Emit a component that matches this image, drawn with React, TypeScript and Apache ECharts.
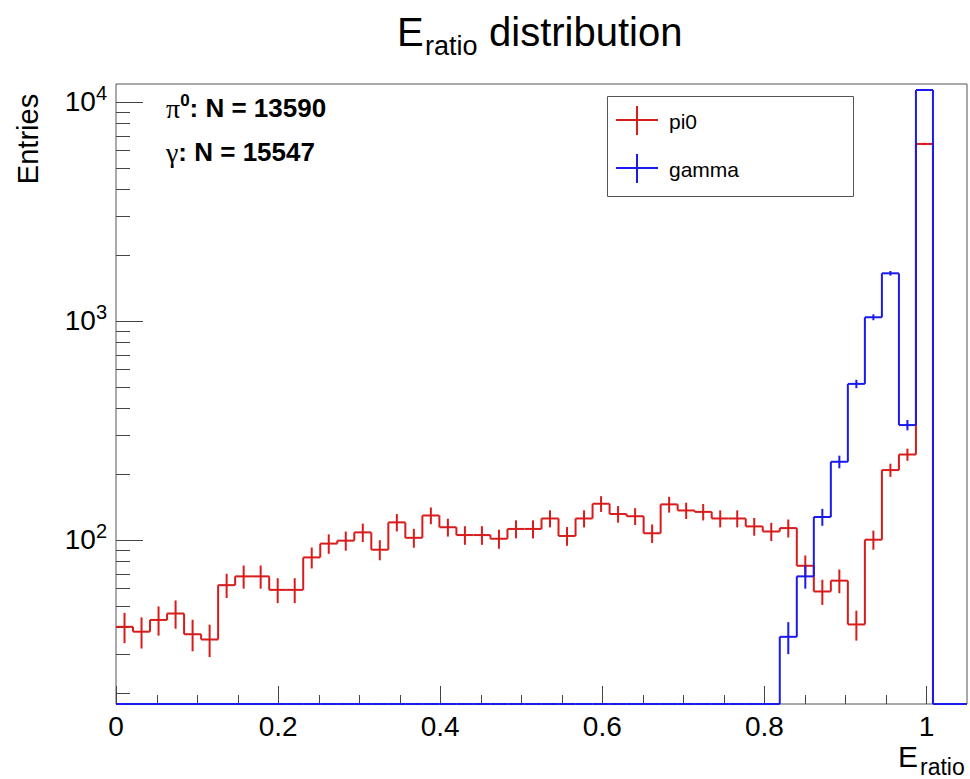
import React, { useEffect, useRef } from "react";
import * as echarts from "echarts";

// ---- binning / axis ranges ----
const X_MIN = 0;
const X_MAX = 1.05;
const N_BINS = 50;
const BIN_W = (X_MAX - X_MIN) / N_BINS;
const Y_MIN = 17.76;
const Y_MAX = 12071;

// ---- data (entries per bin, bins of width 0.021 from 0 to 1.05) ----
const pi0Counts = [
  40, 38, 43, 46, 37, 35, 62, 68, 68, 59,
  59, 83, 96, 99, 108, 90, 120, 102, 129, 114,
  105, 105, 101, 112, 112, 125, 104, 125, 146, 131,
  128, 107, 145, 136, 134, 125, 125, 115, 109, 113,
  76, 58, 65, 41, 100, 208, 245, 6424, 0, 0,
];
const gammaCounts = [
  0, 0, 0, 0, 0, 0, 0, 0, 0, 0,
  0, 0, 0, 0, 0, 0, 0, 0, 0, 0,
  0, 0, 0, 0, 0, 0, 0, 0, 0, 0,
  0, 0, 0, 0, 0, 0, 0, 0, 0, 36,
  68, 127, 227, 515, 1038, 1648, 334, 11333, 0, 0,
];
const seriesNames = ["pi0", "gamma"];
const seriesColors = ["#d81b1b", "#1a1aec"];
const statsSymbols = ["π", "γ"];
const statsSups = ["0", ""];
const statsTotals = [13590, 15547];

// tick values
const xMajorTicks = [0, 0.2, 0.4, 0.6, 0.8, 1.0];
const xMinorStep = 0.05;
const yMajorTicks = [100, 1000, 10000];

const FONT = "'Liberation Sans', Arial, Helvetica, sans-serif";

function buildXTicks() {
  const out: number[][] = [];
  for (let k = 0; k * xMinorStep <= 1.0 + 1e-9; k++) {
    const v = +(k * xMinorStep).toFixed(4);
    const major = xMajorTicks.some((m) => Math.abs(m - v) < 1e-9) ? 1 : 0;
    out.push([v, Y_MIN, major]);
  }
  return out;
}
function buildYTicks() {
  const out: number[][] = [];
  for (let d = 10; d <= 10000; d *= 10) {
    for (let m = 1; m <= 9; m++) {
      const v = d * m;
      if (v < Y_MIN || v > Y_MAX) continue;
      const major = yMajorTicks.indexOf(v) >= 0 ? 1 : 0;
      out.push([X_MIN, v, major]);
    }
  }
  return out;
}

function histSeries(name: string, counts: number[], color: string) {
  return {
    type: "custom",
    name,
    clip: false,
    silent: true,
    data: counts.map((c, i) => [X_MIN + (i + 0.5) * BIN_W, Math.max(c, Y_MIN), i]),
    encode: { x: 0, y: 1 },
    renderItem: (_p: any, api: any) => {
      const i = api.value(2);
      const v = counts[i];
      const lo = X_MIN + i * BIN_W;
      const hi = lo + BIN_W;
      const yv = Math.max(v, Y_MIN);
      const pL = api.coord([lo, yv]);
      const pR = api.coord([hi, yv]);
      const st = { stroke: color, lineWidth: 2, fill: null };
      const children: any[] = [
        { type: "line", shape: { x1: pL[0], y1: pL[1], x2: pR[0], y2: pR[1] }, style: st },
      ];
      if (i > 0) {
        const prev = Math.max(counts[i - 1], Y_MIN);
        const pp = api.coord([lo, prev]);
        children.push({
          type: "line",
          shape: { x1: pL[0], y1: pp[1], x2: pL[0], y2: pL[1] },
          style: st,
        });
      }
      if (v > 0) {
        const e = Math.sqrt(v);
        const mid = (lo + hi) / 2;
        const t = api.coord([mid, v + e]);
        const b = api.coord([mid, Math.max(v - e, Y_MIN)]);
        children.push({
          type: "line",
          shape: { x1: t[0], y1: t[1], x2: b[0], y2: b[1] },
          style: st,
        });
      }
      return { type: "group", children };
    },
  };
}

export default function App() {
  const ref = useRef<HTMLDivElement>(null);
  useEffect(() => {
    if (!ref.current) return;
    const chart = echarts.init(ref.current, null, { renderer: "svg" });
    const xTickData = buildXTicks();
    const yTickData = buildYTicks();

    const legendGraphics: any[] = [
      {
        type: "rect",
        shape: { x: 607.5, y: 96.5, width: 246, height: 100 },
        style: { fill: "#fff", stroke: "#555", lineWidth: 1 },
        z: 10,
      },
    ];
    const legendRows = [120, 168];
    seriesNames.forEach((nm, k) => {
      const cy = legendRows[k];
      legendGraphics.push(
        { type: "line", shape: { x1: 616, y1: cy, x2: 658, y2: cy }, style: { stroke: seriesColors[k], lineWidth: 2 }, z: 11 },
        { type: "line", shape: { x1: 637, y1: cy - 14, x2: 637, y2: cy + 15 }, style: { stroke: seriesColors[k], lineWidth: 2 }, z: 11 },
        { type: "text", x: 669, y: cy + 1, style: { text: nm, fontSize: 21, fontFamily: FONT, fill: "#000", verticalAlign: "middle", align: "left" }, z: 11 }
      );
    });

    const statsGraphics = statsSymbols.map((sym, k) => ({
      type: "text",
      x: 166,
      y: 108 + k * 44,
      style: {
        text: `{g|${sym}}` + (statsSups[k] ? `{s|${statsSups[k]}}` : "") + `{b|: N = ${statsTotals[k]}}`,
        verticalAlign: "middle",
        align: "left",
        rich: {
          g: { fontFamily: "'Liberation Serif', 'DejaVu Serif', serif", fontSize: 28, fill: "#000" },
          s: { fontFamily: FONT, fontSize: 17, fontWeight: "bold", padding: [0, 0, 15, 0], fill: "#000" },
          b: { fontFamily: FONT, fontSize: 26, fontWeight: "bold", fill: "#000" },
        },
      },
    }));

    const option: any = {
      animation: false,
      backgroundColor: "#fff",
      grid: {
        left: 116,
        right: 3,
        top: 84,
        bottom: 75,
        show: true,
        borderColor: "#555",
        borderWidth: 1,
        containLabel: false,
        outerBoundsMode: "none",
      },
      xAxis: {
        type: "value",
        min: X_MIN,
        max: X_MAX,
        interval: 0.2,
        axisLine: { show: false },
        axisTick: { show: false },
        splitLine: { show: false },
        axisLabel: {
          fontSize: 28,
          fontFamily: FONT,
          color: "#000",
          margin: 8,
          showMaxLabel: false,
          formatter: (v: number) => (v > 1.0001 ? "" : String(+v.toFixed(2))),
        },
      },
      yAxis: {
        type: "log",
        logBase: 10,
        min: Y_MIN,
        max: Y_MAX,
        axisLine: { show: false },
        axisTick: { show: false },
        splitLine: { show: false },
        minorTick: { show: false },
        axisLabel: {
          margin: 9,
          showMinLabel: false,
          showMaxLabel: false,
          formatter: (v: number) => {
            const l = Math.log10(v);
            if (Math.abs(l - Math.round(l)) > 1e-6) return "";
            return `{b|10}{s|${Math.round(l)}}`;
          },
          rich: {
            b: { fontSize: 28, fontFamily: FONT, color: "#000" },
            s: { fontSize: 20, fontFamily: FONT, color: "#000", padding: [0, 0, 17, 0] },
          },
        },
      },
      series: [
        {
          type: "custom",
          name: "xTicks",
          silent: true,
          clip: false,
          data: xTickData,
          encode: { x: 0, y: 1 },
          renderItem: (_p: any, api: any) => {
            const pt = api.coord([api.value(0), api.value(1)]);
            const len = api.value(2) ? 18 : 9;
            const x = Math.round(pt[0]) + 0.5;
            return { type: "line", shape: { x1: x, y1: pt[1], x2: x, y2: pt[1] - len }, style: { stroke: "#444", lineWidth: 1 } };
          },
        },
        {
          type: "custom",
          name: "yTicks",
          silent: true,
          clip: false,
          data: yTickData,
          encode: { x: 0, y: 1 },
          renderItem: (_p: any, api: any) => {
            const pt = api.coord([api.value(0), api.value(1)]);
            const len = api.value(2) ? 27 : 14;
            const y = Math.round(pt[1]) + 0.5;
            return { type: "line", shape: { x1: pt[0], y1: y, x2: pt[0] + len, y2: y }, style: { stroke: "#444", lineWidth: 1 } };
          },
        },
        histSeries(seriesNames[0], pi0Counts, seriesColors[0]),
        histSeries(seriesNames[1], gammaCounts, seriesColors[1]),
      ],
      graphic: [
        { type: "text", x: 397, y: 32, style: { text: "E", fontSize: 40, fontFamily: FONT, fill: "#000", verticalAlign: "middle", align: "left" } },
        { type: "text", x: 425, y: 46, style: { text: "ratio", fontSize: 27, fontFamily: FONT, fill: "#000", verticalAlign: "middle", align: "left" } },
        { type: "text", x: 489, y: 32, style: { text: "distribution", fontSize: 40, fontFamily: FONT, fill: "#000", verticalAlign: "middle", align: "left" } },
        { type: "text", x: 898, y: 756, style: { text: "E", fontSize: 30, fontFamily: FONT, fill: "#000", verticalAlign: "middle", align: "left" } },
        { type: "text", x: 920, y: 767, style: { text: "ratio", fontSize: 23, fontFamily: FONT, fill: "#000", verticalAlign: "middle", align: "left" } },
        { type: "text", x: 28, y: 139, rotation: Math.PI / 2, style: { text: "Entries", fontSize: 29, fontFamily: FONT, fill: "#000", verticalAlign: "middle", align: "center" } },
        ...statsGraphics,
        ...legendGraphics,
      ],
    };
    chart.setOption(option);
    return () => chart.dispose();
  }, []);
  return <div ref={ref} style={{ position: "fixed", left: 0, top: 0, width: 970, height: 779 }} />;
}
